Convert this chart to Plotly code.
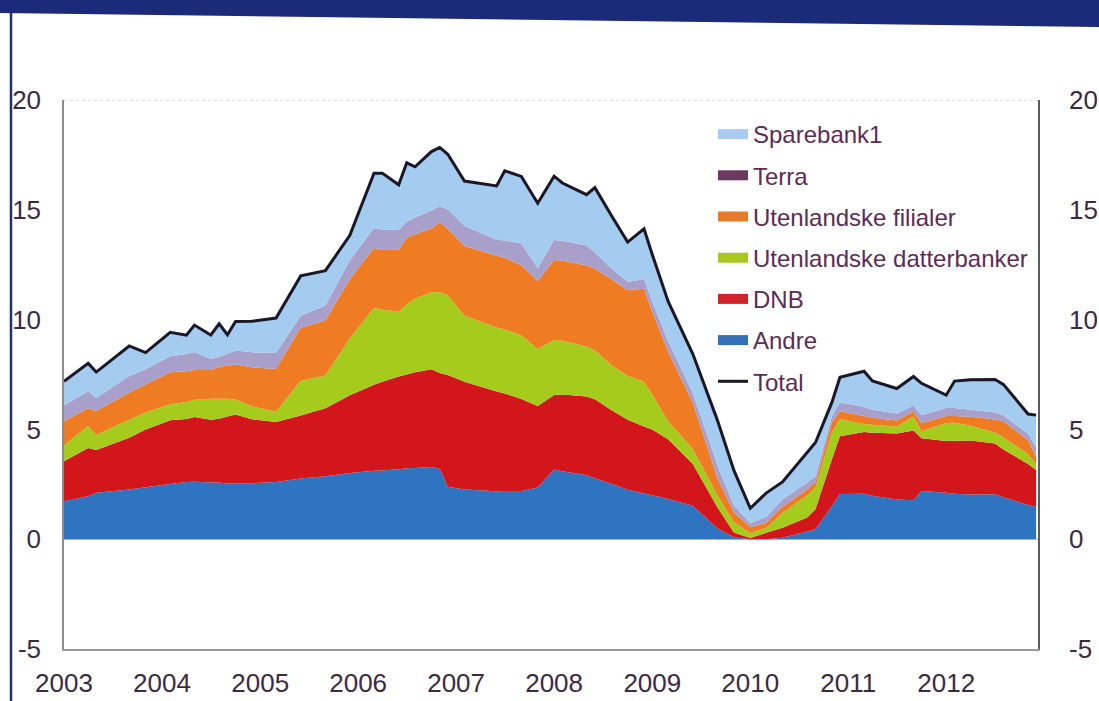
import plotly.graph_objects as go

# ---------------- data ----------------
dates = [
    "2003-01-01", "2003-04-01", "2003-05-01", "2003-09-01", "2003-11-01",
    "2004-02-01", "2004-04-01", "2004-05-01", "2004-07-01", "2004-08-01",
    "2004-09-01", "2004-10-01", "2004-12-01", "2005-03-01", "2005-06-01",
    "2005-09-01", "2005-12-01", "2006-03-01", "2006-04-01", "2006-06-01",
    "2006-07-01", "2006-08-01", "2006-10-01", "2006-11-01", "2006-12-01",
    "2007-02-01", "2007-06-01", "2007-07-01", "2007-09-01", "2007-11-01",
    "2008-01-01", "2008-02-01", "2008-05-01", "2008-06-01", "2008-08-01",
    "2008-10-01", "2008-12-01", "2009-01-01", "2009-03-01", "2009-06-01",
    "2009-09-01", "2009-11-01", "2010-01-01", "2010-03-01", "2010-05-01",
    "2010-08-01", "2010-09-01", "2010-11-01", "2010-12-01", "2011-03-01",
    "2011-04-01", "2011-07-01", "2011-09-01", "2011-10-01", "2012-01-01",
    "2012-02-01", "2012-04-01", "2012-07-01", "2012-08-01", "2012-11-01",
    "2012-12-01",
]

andre = [
    1.73, 1.96, 2.11, 2.26, 2.36, 2.51, 2.61, 2.62, 2.58, 2.58,
    2.54, 2.55, 2.55, 2.61, 2.76, 2.87, 3.02, 3.12, 3.13, 3.18,
    3.23, 3.24, 3.29, 3.20, 2.39, 2.26, 2.18, 2.19, 2.20, 2.35,
    3.17, 3.09, 2.91, 2.78, 2.52, 2.25, 2.08, 2.00, 1.83, 1.52,
    0.49, 0.09, 0.00, 0.00, 0.07, 0.35, 0.45, 1.50, 2.06, 2.07,
    1.98, 1.81, 1.77, 2.19, 2.11, 2.07, 2.03, 2.05, 1.91, 1.56,
    1.47,
]
dnb = [
    1.82, 2.19, 1.95, 2.36, 2.64, 2.91, 2.86, 2.95, 2.86, 2.91,
    3.05, 3.13, 2.91, 2.73, 2.87, 3.09, 3.54, 3.91, 4.04, 4.23,
    4.27, 4.36, 4.45, 4.37, 5.09, 4.91, 4.55, 4.45, 4.18, 3.72,
    3.40, 3.50, 3.59, 3.59, 3.36, 3.19, 3.05, 2.99, 2.72, 1.91,
    0.95, 0.22, 0.05, 0.29, 0.45, 0.64, 0.91, 2.14, 2.63, 2.81,
    2.87, 3.00, 3.18, 2.41, 2.36, 2.41, 2.46, 2.31, 2.18, 1.86,
    1.68,
]
datterbanker = [
    0.73, 1.00, 0.69, 0.82, 0.77, 0.73, 0.78, 0.78, 0.96, 0.91,
    0.81, 0.68, 0.59, 0.46, 1.59, 1.50, 2.59, 3.50, 3.28, 2.95,
    3.19, 3.36, 3.50, 3.68, 3.64, 3.00, 2.91, 2.91, 2.91, 2.59,
    2.50, 2.45, 2.28, 2.23, 2.05, 2.00, 2.04, 1.60, 0.82, 0.68,
    0.55, 0.46, 0.23, 0.22, 0.68, 1.00, 1.00, 1.22, 0.77, 0.37,
    0.36, 0.32, 0.64, 0.32, 0.82, 0.82, 0.68, 0.50, 0.55, 0.46,
    0.24,
]
filialer = [
    1.09, 0.81, 1.09, 1.23, 1.27, 1.45, 1.40, 1.36, 1.31, 1.45,
    1.50, 1.59, 1.78, 1.95, 2.41, 2.50, 2.69, 2.73, 2.72, 2.82,
    3.04, 2.91, 2.91, 3.18, 3.00, 3.18, 3.27, 3.27, 3.18, 3.09,
    3.64, 3.64, 3.68, 3.73, 3.91, 3.91, 4.23, 3.77, 3.18, 2.09,
    0.77, 0.45, 0.27, 0.23, 0.28, 0.27, 0.23, 0.46, 0.37, 0.36,
    0.32, 0.27, 0.23, 0.36, 0.32, 0.31, 0.41, 0.59, 0.73, 0.63,
    0.36,
]
terra = [
    0.73, 0.78, 0.59, 0.76, 0.70, 0.73, 0.78, 0.82, 0.50, 0.46,
    0.55, 0.64, 0.68, 0.73, 0.54, 0.68, 0.86, 0.91, 0.91, 0.91,
    0.73, 0.78, 0.82, 0.73, 0.91, 0.91, 0.73, 0.78, 1.00, 0.59,
    0.91, 0.91, 0.91, 0.72, 0.50, 0.36, 0.45, 0.45, 0.46, 0.45,
    0.59, 0.32, 0.18, 0.27, 0.32, 0.32, 0.27, 0.27, 0.41, 0.41,
    0.36, 0.32, 0.27, 0.37, 0.36, 0.37, 0.32, 0.32, 0.27, 0.28,
    0.45,
]
sparebank1 = [
    1.09, 1.27, 1.18, 1.37, 0.76, 1.09, 0.86, 1.22, 1.09, 1.50,
    0.86, 1.32, 1.41, 1.59, 1.82, 1.59, 1.14, 2.50, 2.59, 2.05,
    2.68, 2.31, 2.68, 2.68, 2.50, 2.05, 2.45, 3.18, 3.05, 2.96,
    2.91, 2.63, 2.32, 2.96, 2.41, 1.82, 2.28, 2.14, 1.82, 1.78,
    2.05, 1.59, 0.68, 1.09, 0.81, 1.36, 1.54, 0.64, 1.13, 1.63,
    1.32, 1.14, 1.32, 1.45, 0.59, 1.22, 1.36, 1.50, 1.41, 0.91,
    1.45,
]
total = [
    7.19, 8.01, 7.61, 8.80, 8.50, 9.42, 9.29, 9.75, 9.30, 9.81,
    9.31, 9.91, 9.92, 10.07, 11.99, 12.23, 13.84, 16.67, 16.67, 16.14,
    17.14, 16.96, 17.65, 17.84, 17.53, 16.31, 16.09, 16.78, 16.52, 15.30,
    16.53, 16.22, 15.69, 16.01, 14.75, 13.53, 14.13, 12.95, 10.83, 8.43,
    5.40, 3.13, 1.41, 2.10, 2.61, 3.94, 4.40, 6.23, 7.37, 7.65,
    7.21, 6.86, 7.41, 7.10, 6.56, 7.20, 7.26, 7.27, 7.05, 5.70,
    5.65,
]

year_ticks = ["2003-01-01", "2004-01-01", "2005-01-01", "2006-01-01", "2007-01-01",
              "2008-01-01", "2009-01-01", "2010-01-01", "2011-01-01", "2012-01-01"]
year_labels = ["2003", "2004", "2005", "2006", "2007", "2008", "2009", "2010", "2011", "2012"]
y_ticks = [-5, 0, 5, 10, 15, 20]
y_labels = ["-5", "0", "5", "10", "15", "20"]

# ---------------- figure ----------------
W, H = 1099, 701
ML, MR, MT, MB = 64, 61, 100, 52
PW, PH = W - ML - MR, H - MT - MB


def px_x(px):
    return (px - ML) / PW


def px_y(py):
    return (H - MB - py) / PH


FONT = "Liberation Sans, Arial, sans-serif"
LEG_TXT = "#5E2B55"

# (name, values, area colour, legend swatch colour, legend rank)
layers = [
    ("Andre", andre, "#2F74C1", "#3470B8", 6),
    ("DNB", dnb, "#D3161B", "#D0232A", 5),
    ("Utenlandske datterbanker", datterbanker, "#A5CC1C", "#A8C820", 4),
    ("Utenlandske filialer", filialer, "#EF7B22", "#E97A2A", 3),
    ("Terra", terra, "#A89FCA", "#6C3A5E", 2),
    ("Sparebank1", sparebank1, "#A4CCF0", "#A8CBEF", 1),
]

fig = go.Figure()
for name, vals, col, _leg, _rank in layers:
    fig.add_trace(go.Scatter(
        x=dates, y=vals, name=name, stackgroup="banks", mode="none",
        fillcolor=col, showlegend=False, hoverinfo="skip",
    ))

# legend entries (rectangular swatches in the reference's legend colours)
for name, _vals, _col, leg, rank in layers:
    fig.add_trace(go.Scatter(
        x=[None], y=[None], name=name, mode="lines",
        line=dict(color=leg, width=12), legendrank=rank, legendgroup=name,
        showlegend=True,
    ))

fig.add_trace(go.Scatter(
    x=dates, y=total, name="Total", mode="lines", yaxis="y2",
    line=dict(color="#1B1725", width=3), legendrank=7, legendgroup="Total",
))

tickfont = dict(family=FONT, size=26, color="#3E2A40")

fig.update_layout(
    width=W, height=H,
    margin=dict(l=ML, r=MR, t=MT, b=MB, autoexpand=False),
    paper_bgcolor="white", plot_bgcolor="white",
    showlegend=True,
    legend=dict(
        x=px_x(713), y=px_y(112), xanchor="left", yanchor="top",
        bgcolor="rgba(0,0,0,0)", font=dict(family=FONT, size=24, color=LEG_TXT),
        traceorder="grouped", tracegroupgap=7, itemwidth=30,
    ),
    xaxis=dict(
        type="date", range=["2003-01-01", "2012-12-08"],
        tickvals=year_ticks, ticktext=year_labels, tickfont=tickfont,
        ticks="outside", ticklen=10, tickcolor="rgba(0,0,0,0)",
        showgrid=False, zeroline=False, automargin=False,
        showline=True, linecolor="#9A9A9A", linewidth=1.5,
    ),
    yaxis=dict(
        range=[-5, 20], tickvals=y_ticks, ticktext=y_labels, tickfont=tickfont,
        ticks="outside", ticklen=16, tickcolor="rgba(0,0,0,0)",
        showgrid=False, zeroline=True, zerolinecolor="#C8C8C8", zerolinewidth=1,
        showline=True, linecolor="#8C8C8C", linewidth=1.5, automargin=False,
    ),
    yaxis2=dict(
        range=[-5, 20], tickvals=y_ticks, ticktext=y_labels, tickfont=tickfont,
        overlaying="y", side="right",
        ticks="outside", ticklen=24, tickcolor="rgba(0,0,0,0)",
        showgrid=False, zeroline=False, automargin=False,
        showline=True, linecolor="#5A5A66", linewidth=1.8,
    ),
    shapes=[
        # faint dotted line at the top of the plot (20)
        dict(type="line", xref="paper", yref="y", x0=0, x1=1, y0=20, y1=20,
             line=dict(color="#D4D4D4", width=1.5, dash="dot"), layer="below"),
        # dark navy band along the top of the page
        dict(type="path", xref="paper", yref="paper",
             path=f"M {px_x(0)},{px_y(0)} L {px_x(W)},{px_y(0)} L {px_x(W)},{px_y(27)} L {px_x(0)},{px_y(13)} Z",
             fillcolor="#1C2A7A", line=dict(width=0), layer="above"),
        # dark frame line on the left edge
        dict(type="line", xref="paper", yref="paper",
             x0=px_x(11), x1=px_x(11), y0=px_y(13), y1=px_y(H),
             line=dict(color="#23306E", width=2.5)),
    ],
)

fig.write_html(
    "out.html",
    config={"displayModeBar": False},
    post_script="document.body.style.margin='0';document.body.style.padding='0';",
)
